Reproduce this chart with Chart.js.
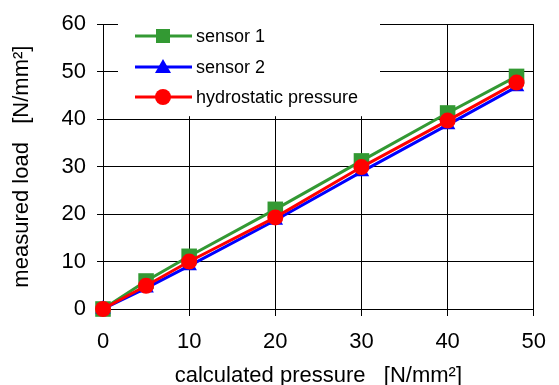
<!DOCTYPE html>
<html>
<head>
<meta charset="utf-8">
<script src="https://cdn.jsdelivr.net/npm/chart.js@4.4.0/dist/chart.umd.min.js"></script>
<style>
  html, body { margin: 0; padding: 0; background: #fff; }
  #wrap { width: 559px; height: 385px; }
</style>
</head>
<body>
<div id="wrap"><canvas id="loadChart" width="559" height="385"></canvas></div>
<script>
// calculated pressure [N/mm²]
const pressure = [0, 5, 10, 20, 30, 40, 48];
// measured load [N/mm²]
const sensor1 = [0, 5.9, 11.1, 21.0, 31.2, 41.3, 49.0];
const sensor2 = [0, 4.4, 9.1, 18.7, 28.9, 38.8, 46.8];
const hydrostatic = [0, 4.9, 10.0, 19.3, 29.9, 39.7, 47.7];
const seriesNames = ["sensor 1", "sensor 2", "hydrostatic pressure"];

const GREEN = "#339933";
const BLUE = "#0000ff";
const RED = "#ff0000";
const FONT = "'Liberation Sans', Arial, sans-serif";

function toPoints(ys) {
  return pressure.map((x, i) => ({ x: x, y: ys[i] }));
}

// white legend box inside the plot, top-left
const boxLegend = {
  id: "boxLegend",
  beforeDatasetsDraw(chart) {
    const ctx = chart.ctx;
    const a = chart.chartArea;
    ctx.save();
    ctx.fillStyle = "#fff";
    ctx.fillRect(a.left + 15, a.top - 1, 262, 93);

    const items = [
      { color: GREEN, shape: "square" },
      { color: BLUE, shape: "triangle" },
      { color: RED, shape: "circle" },
    ];
    const rowY = [36, 67, 97];
    items.forEach((it, i) => {
      const y = rowY[i];
      ctx.strokeStyle = it.color;
      ctx.lineWidth = 3;
      ctx.beginPath();
      ctx.moveTo(135, y);
      ctx.lineTo(192, y);
      ctx.stroke();
      ctx.fillStyle = it.color;
      ctx.beginPath();
      if (it.shape === "square") {
        ctx.rect(156, y - 7, 14, 14);
      } else if (it.shape === "triangle") {
        ctx.moveTo(163, y - 8);
        ctx.lineTo(171, y + 6);
        ctx.lineTo(155, y + 6);
        ctx.closePath();
      } else {
        ctx.arc(163, y, 8, 0, Math.PI * 2);
      }
      ctx.fill();
      ctx.fillStyle = "#000";
      ctx.font = "18px " + FONT;
      ctx.textBaseline = "middle";
      ctx.textAlign = "left";
      ctx.fillText(seriesNames[i], 196, y + 1);
    });
    ctx.restore();
  },
};

const config = {
  type: "line",
  data: {
    datasets: [
      {
        label: seriesNames[0],
        data: toPoints(sensor1),
        borderColor: GREEN,
        backgroundColor: GREEN,
        borderWidth: 3,
        pointStyle: "rect",
        pointRadius: 11,
        pointBorderWidth: 0,
        clip: false,
        order: 2,
      },
      {
        label: seriesNames[1],
        data: toPoints(sensor2),
        borderColor: BLUE,
        backgroundColor: BLUE,
        borderWidth: 3,
        pointStyle: "triangle",
        pointRadius: 9,
        pointBorderWidth: 0,
        clip: false,
        order: 1,
      },
      {
        label: seriesNames[2],
        data: toPoints(hydrostatic),
        borderColor: RED,
        backgroundColor: RED,
        borderWidth: 3,
        pointStyle: "circle",
        pointRadius: 8,
        pointBorderWidth: 0,
        clip: false,
        order: 0,
      },
    ],
  },
  options: {
    responsive: false,
    animation: false,
    layout: { padding: { top: 22, right: 14, left: 0, bottom: 0 } },
    scales: {
      x: {
        type: "linear",
        min: 0,
        max: 50,
        afterFit: (s) => { s.height = 76; },
        ticks: {
          stepSize: 10,
          color: "#000",
          padding: 13,
          font: { family: FONT, size: 22 },
        },
        grid: { color: "#000", tickColor: "#000", tickLength: 7, lineWidth: 1 },
        border: { color: "#000", width: 1 },
        title: {
          display: true,
          text: "calculated pressure   [N/mm²]",
          color: "#000",
          font: { family: FONT, size: 22, lineHeight: 1 },
          padding: { top: 0, bottom: -2 },
        },
      },
      y: {
        min: 0,
        max: 60,
        afterFit: (s) => { s.width = 103; },
        ticks: {
          stepSize: 5,
          color: "#000",
          padding: 11,
          font: { family: FONT, size: 22 },
          callback: (v) => (v % 10 === 0 ? v : ""),
        },
        grid: {
          color: (c) => (c.tick && c.tick.value % 10 === 0 ? "#000" : "rgba(0,0,0,0)"),
          tickColor: "#000",
          tickLength: 6,
          lineWidth: 1,
        },
        border: { color: "#000", width: 1 },
        title: {
          display: true,
          text: "measured load   [N/mm²]",
          color: "#000",
          font: { family: FONT, size: 22, lineHeight: 1.2 },
          padding: { top: 9, bottom: 0 },
        },
      },
    },
    plugins: {
      legend: { display: false },
      tooltip: { enabled: false },
    },
  },
  plugins: [boxLegend],
};

const loadChart = new Chart(document.getElementById("loadChart"), config);
</script>
</body>
</html>
